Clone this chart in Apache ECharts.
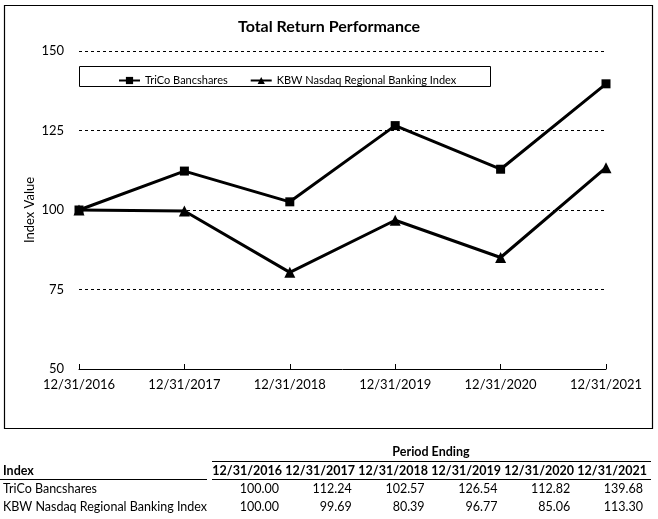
<!DOCTYPE html>
<html>
<head>
<meta charset="utf-8">
<script src="https://cdn.jsdelivr.net/npm/echarts@6/dist/echarts.min.js"></script>
<style>html,body{margin:0;padding:0;background:#fff;}#c{width:658px;height:519px;}</style>
</head>
<body>
<div id="c"></div>
<script>
var categories = ['12/31/2016','12/31/2017','12/31/2018','12/31/2019','12/31/2020','12/31/2021'];
var seriesNames = ['TriCo Bancshares','KBW Nasdaq Regional Banking Index'];
var trico = [100.00, 112.24, 102.57, 126.54, 112.82, 139.68];
var kbw = [100.00, 99.69, 80.39, 96.77, 85.06, 113.30];
var yTicks = [50, 75, 100, 125, 150];
var yAxisName = 'Index Value';

var FONT = 'Lato, "Liberation Sans", Arial, sans-serif';
var chart = echarts.init(document.getElementById('c'), null, {renderer:'canvas'});

var graphics = [];
// outer frame
graphics.push({type:'rect', shape:{x:4.5, y:5.5, width:648, height:423}, style:{fill:null, stroke:'#000', lineWidth:1.2}, z:-1});
// legend box
graphics.push({type:'rect', shape:{x:79.5, y:66.5, width:411, height:20}, style:{fill:'#fff', stroke:'#000', lineWidth:1}, z:5});
// y axis name
graphics.push({type:'text', x:30, y:210, rotation:Math.PI/2, style:{text:yAxisName, font:'13px '+FONT, fill:'#000', align:'center', verticalAlign:'middle'}});

// table
var colRightHeader = function(i){ return 282 + 73*i; };
var colRightVal = function(i){ return 279 + 72.8*i; };
graphics.push({type:'text', x:431, y:452, style:{text:'Period Ending', font:'bold 12.5px '+FONT, fill:'#000', align:'center', verticalAlign:'middle'}});
graphics.push({type:'line', shape:{x1:212, y1:461.5, x2:651, y2:461.5}, style:{stroke:'#000', lineWidth:1}});
graphics.push({type:'line', shape:{x1:0, y1:479.5, x2:207, y2:479.5}, style:{stroke:'#000', lineWidth:1}});
graphics.push({type:'line', shape:{x1:212, y1:479.5, x2:651, y2:479.5}, style:{stroke:'#000', lineWidth:1}});
graphics.push({type:'text', x:3, y:471, style:{text:'Index', font:'bold 12.5px '+FONT, fill:'#000', align:'left', verticalAlign:'middle'}});
categories.forEach(function(c, i){
  graphics.push({type:'text', x:colRightHeader(i), y:471, style:{text:c, font:'bold 12.5px '+FONT, fill:'#000', align:'right', verticalAlign:'middle'}});
});
[trico, kbw].forEach(function(arr, r){
  var y = 489 + r*18;
  graphics.push({type:'text', x:3, y:y, style:{text:seriesNames[r], font:'12.5px '+FONT, fill:'#000', align:'left', verticalAlign:'middle'}});
  arr.forEach(function(v, i){
    graphics.push({type:'text', x:colRightVal(i), y:y, style:{text:v.toFixed(2), font:'12.5px '+FONT, fill:'#000', align:'right', verticalAlign:'middle'}});
  });
});

chart.setOption({
  animation:false,
  backgroundColor:'#fff',
  title:{text:'Total Return Performance', left:'center', top:14, textStyle:{fontFamily:FONT, fontSize:16, fontWeight:'bold', color:'#000'}},
  legend:{
    left:113, top:70, itemWidth:21, itemHeight:9, itemGap:22, z:10,
    textStyle:{fontFamily:FONT, fontSize:11, color:'#000'},
    data:seriesNames
  },
  grid:{left:79, right:52, top:51, bottom:150, containLabel:false},
  xAxis:{
    type:'category', data:categories, boundaryGap:false,
    axisLine:{lineStyle:{color:'#000', width:1}},
    axisTick:{inside:true, length:5, lineStyle:{color:'#000'}, alignWithLabel:true},
    axisLabel:{fontFamily:FONT, fontSize:13, color:'#000', margin:9, interval:0},
    splitLine:{show:false}
  },
  yAxis:{
    type:'value', min:50, max:150, interval:25,
    axisLine:{show:false}, axisTick:{show:false},
    axisLabel:{fontFamily:FONT, fontSize:13, color:'#000', margin:15,
      formatter:function(v){ return yTicks.indexOf(v) >= 0 ? String(v) : ''; }},
    splitLine:{lineStyle:{color:'#000', type:[3,3], width:1}}
  },
  series:[
    {name:seriesNames[0], type:'line', data:trico, symbol:'rect', symbolSize:9,
      lineStyle:{color:'#000', width:3}, itemStyle:{color:'#000'}},
    {name:seriesNames[1], type:'line', data:kbw, symbol:'triangle', symbolSize:11,
      lineStyle:{color:'#000', width:3}, itemStyle:{color:'#000'}}
  ],
  graphic:graphics
});
</script>
</body>
</html>
